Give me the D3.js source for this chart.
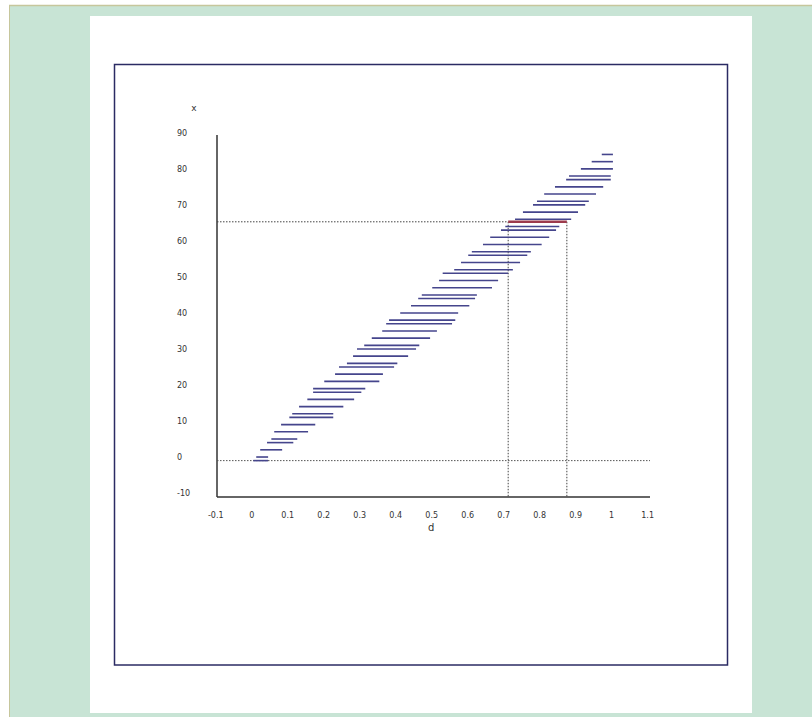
<!DOCTYPE html>
<html>
<head>
<meta charset="utf-8">
<script src="https://cdn.jsdelivr.net/npm/d3@7"></script>
<style>
  html, body { margin: 0; padding: 0; background: #ffffff; }
  svg { display: block; }
</style>
</head>
<body>
<svg id="chart" width="812" height="717"></svg>
<script>
// ---- data ----
const xLevels = [-1, 0, 2, 4, 5, 7, 9, 11, 12, 14, 16, 18, 19, 21, 23, 25, 26, 28, 30, 31,
  33, 35, 37, 38, 40, 42, 44, 45, 47, 49, 51, 52, 54, 56, 57, 59, 61, 63, 64, 66,
  68, 70, 71, 73, 75, 77, 78, 80, 82, 84];
const dLow = [0.006, 0.014, 0.025, 0.044, 0.056, 0.064, 0.083, 0.106, 0.114, 0.133, 0.156, 0.172, 0.172, 0.203, 0.233, 0.244, 0.266, 0.283, 0.294, 0.314,
  0.335, 0.364, 0.375, 0.383, 0.414, 0.444, 0.464, 0.474, 0.503, 0.522, 0.532, 0.564, 0.583, 0.603, 0.613, 0.644, 0.664, 0.694, 0.706, 0.733,
  0.755, 0.783, 0.794, 0.814, 0.844, 0.875, 0.883, 0.916, 0.946, 0.974];
const dHigh = [0.047, 0.047, 0.086, 0.117, 0.128, 0.158, 0.178, 0.228, 0.228, 0.256, 0.286, 0.306, 0.317, 0.356, 0.366, 0.397, 0.406, 0.436, 0.458, 0.467,
  0.497, 0.516, 0.558, 0.567, 0.575, 0.606, 0.622, 0.627, 0.669, 0.686, 0.714, 0.727, 0.747, 0.767, 0.777, 0.807, 0.828, 0.847, 0.856, 0.889,
  0.908, 0.928, 0.938, 0.958, 0.978, 0.999, 0.999, 1.005, 1.005, 1.005];
const highlightX = 65.3;
const highlightD = [0.714, 0.877];
const lowerRefX = -1;
const xTickValues = [-0.1, 0, 0.1, 0.2, 0.3, 0.4, 0.5, 0.6, 0.7, 0.8, 0.9, 1, 1.1];
const yTickValues = [-10, 0, 10, 20, 30, 40, 50, 60, 70, 80, 90];
const xTitle = "d";
const yTitle = "x";

// ---- drawing ----
const svg = d3.select("#chart");
const W = 812, H = 717;

// page frame
svg.append("rect").attr("x", 0).attr("y", 0).attr("width", W).attr("height", H).attr("fill", "#ffffff");
svg.append("rect").attr("x", 9).attr("y", 6).attr("width", W - 9).attr("height", H - 6).attr("fill", "#c8e4d5");
svg.append("line").attr("x1", 9).attr("x2", W).attr("y1", 5.5).attr("y2", 5.5).attr("stroke", "#c6c69c").attr("stroke-width", 1.5);
svg.append("line").attr("x1", 9.5).attr("x2", 9.5).attr("y1", 5.5).attr("y2", H).attr("stroke", "#c6c69c").attr("stroke-width", 1);
svg.append("rect").attr("x", 90).attr("y", 16).attr("width", 662).attr("height", 697).attr("fill", "#ffffff");
svg.append("rect").attr("x", 114.5).attr("y", 64.5).attr("width", 613).attr("height", 600.5)
  .attr("fill", "none").attr("stroke", "#2b2b63").attr("stroke-width", 1.5);

const x = d3.scaleLinear().domain([-0.095, 1.108]).range([217, 650]);
const y = d3.scaleLinear().domain([-11.1, 89.4]).range([497, 135]);

const font = "'DejaVu Sans', Verdana, sans-serif";

// axes (labels only, no tick marks)
const gx = svg.append("g").attr("transform", `translate(0,${y(-11.1) + 16})`)
  .call(d3.axisBottom(x).tickValues(xTickValues).tickSize(0).tickFormat(d => String(d)));
gx.select(".domain").remove();
gx.selectAll("text").attr("font-family", font).attr("font-size", 8).attr("fill", "#333").attr("dy", "0.3em");

const gy = svg.append("g").attr("transform", `translate(177,0)`)
  .call(d3.axisLeft(y).tickValues(yTickValues).tickSize(0).tickFormat(d => String(d)));
gy.select(".domain").remove();
gy.selectAll("text").attr("font-family", font).attr("font-size", 8).attr("fill", "#333")
  .attr("text-anchor", "start").attr("x", 0).attr("dy", "0.32em");

// axis lines
svg.append("line").attr("x1", x(-0.095)).attr("x2", x(-0.095)).attr("y1", y(89.4)).attr("y2", y(-11.1))
  .attr("stroke", "#333").attr("stroke-width", 1.5);
svg.append("line").attr("x1", x(-0.095)).attr("x2", x(1.108)).attr("y1", y(-11.1)).attr("y2", y(-11.1))
  .attr("stroke", "#333").attr("stroke-width", 1.5);

// titles
svg.append("text").attr("x", x(0.5)).attr("y", 531).attr("text-anchor", "middle")
  .attr("font-family", font).attr("font-size", 10).attr("fill", "#333").text(xTitle);
svg.append("text").attr("x", 194).attr("y", 111).attr("text-anchor", "middle")
  .attr("font-family", font).attr("font-size", 9).attr("fill", "#333").text(yTitle);

// reference dotted lines
const dot = "1.5,1.5";
svg.append("line").attr("x1", x(-0.095)).attr("x2", x(1.108)).attr("y1", y(lowerRefX)).attr("y2", y(lowerRefX))
  .attr("stroke", "#555").attr("stroke-width", 1).attr("stroke-dasharray", dot);
svg.append("line").attr("x1", x(-0.095)).attr("x2", x(highlightD[0])).attr("y1", y(highlightX)).attr("y2", y(highlightX))
  .attr("stroke", "#444").attr("stroke-width", 1).attr("stroke-dasharray", dot);
highlightD.forEach(dv => {
  svg.append("line").attr("x1", x(dv)).attr("x2", x(dv)).attr("y1", y(highlightX)).attr("y2", y(-11.1))
    .attr("stroke", "#444").attr("stroke-width", 1).attr("stroke-dasharray", dot);
});

// interval segments
const segs = xLevels.map((v, i) => ({ v, lo: dLow[i], hi: dHigh[i] }));
svg.append("g").selectAll("line").data(segs).join("line")
  .attr("x1", d => x(d.lo)).attr("x2", d => x(d.hi))
  .attr("y1", d => y(d.v)).attr("y2", d => y(d.v))
  .attr("stroke", "#45458c").attr("stroke-width", 1.6);

// highlighted interval
svg.append("line").attr("x1", x(highlightD[0])).attr("x2", x(highlightD[1]))
  .attr("y1", y(highlightX)).attr("y2", y(highlightX))
  .attr("stroke", "#9c3a4c").attr("stroke-width", 2.6);
</script>
</body>
</html>
